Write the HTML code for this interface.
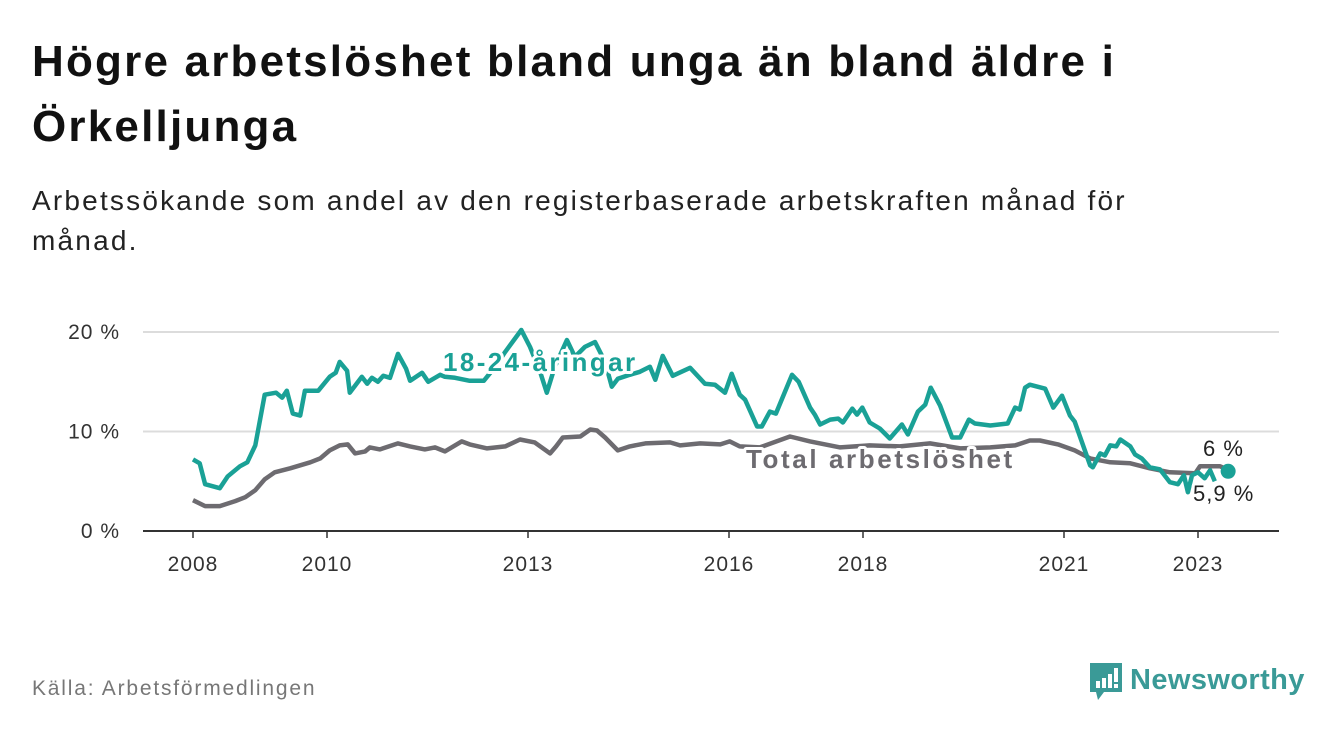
<!DOCTYPE html>
<html><head><meta charset="utf-8">
<style>
html,body{margin:0;padding:0;background:#fff;width:1340px;height:734px;overflow:hidden;font-family:"Liberation Sans",sans-serif;}
#title{position:absolute;left:32px;top:29px;width:1300px;font-size:44px;letter-spacing:2.2px;font-weight:bold;line-height:65px;color:#111;margin:0;}
#sub{position:absolute;left:32px;top:181px;width:1300px;font-size:28px;letter-spacing:2.2px;line-height:40px;color:#222;margin:0;}
#src{position:absolute;left:32px;top:677px;font-size:21px;letter-spacing:1.8px;color:#777;}
#logo{position:absolute;left:1088px;top:660px;}
svg text{font-family:"Liberation Sans",sans-serif;}
</style></head><body>
<h1 id="title">Högre arbetslöshet bland unga än bland äldre i<br>Örkelljunga</h1>
<p id="sub">Arbetssökande som andel av den registerbaserade arbetskraften månad för<br>månad.</p>
<svg id="chart" width="1340" height="734" style="position:absolute;left:0;top:0"></svg>
<div id="src">Källa: Arbetsförmedlingen</div>
<div id="logo">
<svg width="240" height="44">
<path d="M2 3 H34 V32 H16 L10 40 L8 32 H2 Z" fill="#3a9a97"/>
<rect x="8" y="21" width="4" height="7" fill="#fff"/><rect x="14" y="18" width="4" height="10" fill="#fff"/><rect x="20" y="14" width="4" height="14" fill="#fff"/><rect x="26" y="8" width="4" height="14" fill="#fff"/><rect x="26" y="24" width="4" height="4" fill="#fff"/>
<text x="42" y="29" font-size="29" font-weight="bold" letter-spacing="0.4" fill="#3a9a97">Newsworthy</text>
</svg></div>
<script>
const youthDates=[2008.00,2008.10,2008.18,2008.40,2008.52,2008.70,2008.81,2008.93,2009.07,2009.24,2009.33,2009.40,2009.49,2009.60,2009.67,2009.87,2010.04,2010.13,2010.19,2010.30,2010.34,2010.52,2010.60,2010.67,2010.76,2010.84,2010.94,2011.06,2011.18,2011.24,2011.42,2011.51,2011.69,2011.76,2011.91,2012.13,2012.34,2012.51,2012.66,2012.90,2013.03,2013.18,2013.28,2013.40,2013.58,2013.70,2013.85,2014.00,2014.15,2014.25,2014.34,2014.52,2014.67,2014.82,2014.90,2015.01,2015.16,2015.42,2015.64,2015.79,2015.94,2016.04,2016.16,2016.24,2016.42,2016.49,2016.61,2016.70,2016.94,2017.04,2017.21,2017.28,2017.36,2017.51,2017.63,2017.70,2017.84,2017.91,2017.99,2018.10,2018.25,2018.40,2018.58,2018.67,2018.82,2018.93,2019.01,2019.15,2019.33,2019.45,2019.58,2019.67,2019.90,2020.16,2020.27,2020.34,2020.42,2020.49,2020.72,2020.84,2020.97,2021.09,2021.16,2021.39,2021.43,2021.54,2021.61,2021.69,2021.78,2021.84,2021.99,2022.06,2022.16,2022.28,2022.43,2022.58,2022.70,2022.79,2022.85,2022.91,2023.00,2023.10,2023.18,2023.25];
const youthValues=[7.2,6.8,4.7,4.3,5.5,6.5,6.9,8.6,13.7,13.9,13.4,14.1,11.8,11.6,14.1,14.1,15.5,15.9,17.0,16.1,13.9,15.5,14.8,15.4,15.0,15.6,15.4,17.8,16.3,15.1,15.9,15.0,15.7,15.5,15.4,15.1,15.1,16.5,18.0,20.2,18.5,16.0,13.9,16.5,19.2,17.5,18.5,19.0,17.0,14.5,15.3,15.7,16.0,16.5,15.2,17.6,15.6,16.4,14.8,14.7,13.9,15.8,13.7,13.2,10.5,10.5,12.0,11.8,15.7,15.0,12.4,11.7,10.7,11.2,11.3,10.9,12.3,11.7,12.4,10.9,10.3,9.3,10.7,9.7,12.0,12.7,14.4,12.6,9.4,9.4,11.2,10.8,10.6,10.8,12.4,12.2,14.4,14.7,14.3,12.4,13.6,11.6,11.0,6.6,6.4,7.8,7.6,8.6,8.5,9.2,8.5,7.7,7.3,6.4,6.2,4.9,4.7,5.6,3.9,5.6,5.9,5.3,6.1,5.0];
const totalDates=[2008.00,2008.18,2008.40,2008.63,2008.78,2008.93,2009.07,2009.22,2009.45,2009.75,2009.90,2010.04,2010.19,2010.31,2010.42,2010.57,2010.64,2010.79,2011.06,2011.24,2011.46,2011.61,2011.76,2012.01,2012.13,2012.39,2012.66,2012.88,2013.10,2013.33,2013.42,2013.52,2013.78,2013.93,2014.03,2014.15,2014.34,2014.52,2014.75,2015.12,2015.27,2015.57,2015.87,2016.01,2016.16,2016.46,2016.91,2017.21,2017.66,2018.10,2018.55,2019.00,2019.45,2019.90,2020.27,2020.49,2020.64,2020.91,2021.16,2021.39,2021.69,2021.99,2022.28,2022.58,2022.96,2023.03,2023.33,2023.40];
const totalValues=[3.1,2.5,2.5,3.0,3.4,4.1,5.2,5.9,6.3,6.9,7.3,8.1,8.6,8.7,7.8,8.0,8.4,8.2,8.8,8.5,8.2,8.4,8.0,9.0,8.7,8.3,8.5,9.2,8.9,7.8,8.5,9.4,9.5,10.2,10.1,9.4,8.1,8.5,8.8,8.9,8.6,8.8,8.7,9.0,8.5,8.4,9.5,9.0,8.4,8.6,8.5,8.8,8.3,8.4,8.6,9.1,9.1,8.7,8.1,7.3,6.9,6.8,6.3,5.9,5.8,6.5,6.5,6.3];
const endDate=[2023.45];
const endValue=[6.0];
const xTicks=[2008,2010,2013,2016,2018,2021,2023];
const yTicks=[0,10,20];
const yTickLabels=["0 %","10 %","20 %"];

const NS="http://www.w3.org/2000/svg";
const svg=document.getElementById('chart');
const X=d=>193+(d-2008)*67;
const Y=v=>531-v*9.95;
function el(t,a){const e=document.createElementNS(NS,t);for(const k in a)e.setAttribute(k,a[k]);svg.appendChild(e);return e;}
yTicks.forEach((t,i)=>{
  if(t>0){const g=el('line',{x1:143,x2:1279,y1:Y(t),y2:Y(t),stroke:'#dcdcdc','stroke-width':2});
  
  }
  const tx=el('text',{x:120,y:Y(t)+7,'text-anchor':'end','font-size':21,'letter-spacing':1,fill:'#333'});tx.textContent=yTickLabels[i];
  
  
});
const ax=el('line',{x1:143,x2:1279,y1:Y(0),y2:Y(0),stroke:'#333','stroke-width':2});


xTicks.forEach(t=>{
  const l=el('line',{x1:X(t),x2:X(t),y1:531,y2:538,stroke:'#333','stroke-width':1.5});
  
  
  const tx=el('text',{x:X(t),y:571,'text-anchor':'middle','font-size':21,'letter-spacing':1,fill:'#333'});tx.textContent=t;
  
  
});
function pathD(ds,vs){return ds.map((d,i)=>(i?'L':'M')+X(d).toFixed(1)+' '+Y(vs[i]).toFixed(1)).join(' ');}
const tl=el('path',{d:pathD(totalDates,totalValues),fill:'none',stroke:'#6d6b70','stroke-width':4.5,'stroke-linejoin':'round'});


const yl=el('path',{d:pathD(youthDates,youthValues),fill:'none',stroke:'#1aa196','stroke-width':4.5,'stroke-linejoin':'round'});


const dot=el('circle',{cx:X(endDate[0]),cy:Y(endValue[0]),r:7.5,fill:'#1aa196'});


function lbl(txt,x,y,fill,name,size,w,ls){
  const t=el('text',{x:x,y:y,'font-size':size,'font-weight':w,'letter-spacing':ls,fill:fill,stroke:'#fff','stroke-width':6,'paint-order':'stroke','stroke-linejoin':'round'});
  t.textContent=txt;
  
  
}
lbl('18-24-åringar',443,371,'#1aa196','youth-series-label',26,'bold',2.4);
lbl('Total arbetslöshet',746,468,'#6d6b70','total-series-label',26,'bold',2.6);
lbl('6 %',1203,456,'#222','end-label-total',22,'normal',1);
lbl('5,9 %',1193,501,'#222','end-label-youth',22,'normal',1);
</script>
</body></html>
